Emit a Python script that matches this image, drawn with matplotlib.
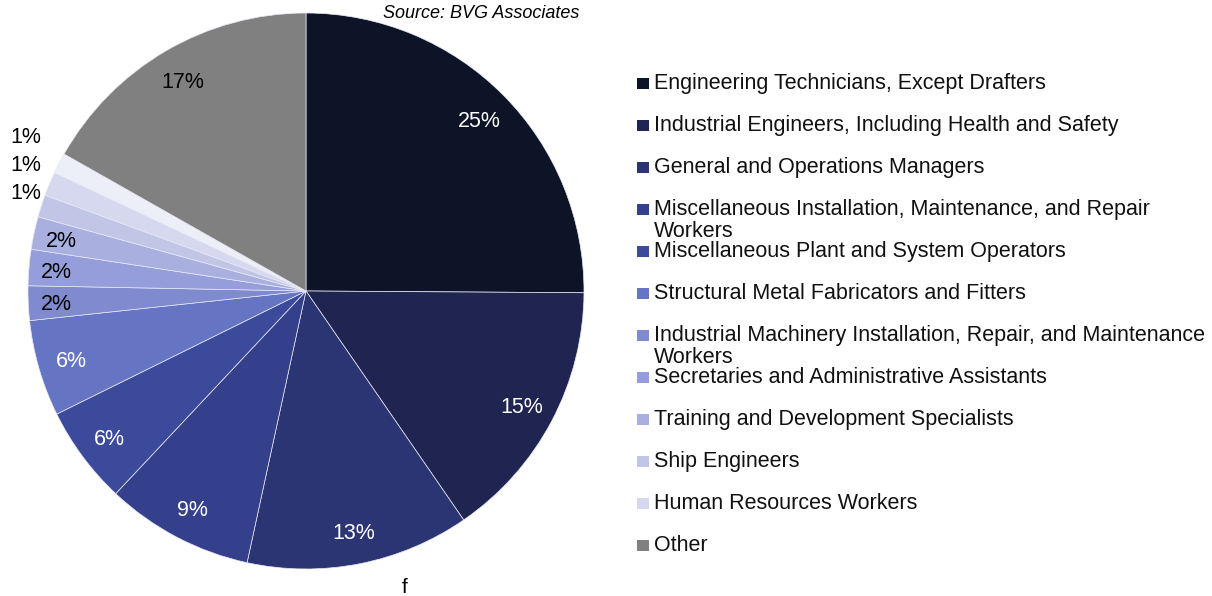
import matplotlib
matplotlib.use('Agg')
import numpy as np
import matplotlib.pyplot as plt
from matplotlib.patches import Rectangle

plt.rcParams['font.family'] = ['Liberation Sans', 'DejaVu Sans']

# occupations, clockwise from 12 o'clock (one slice has no legend entry in the source)
categories = [
    'Engineering Technicians, Except Drafters',
    'Industrial Engineers, Including Health and Safety',
    'General and Operations Managers',
    'Miscellaneous Installation, Maintenance, and Repair\nWorkers',
    'Miscellaneous Plant and System Operators',
    'Structural Metal Fabricators and Fitters',
    'Industrial Machinery Installation, Repair, and Maintenance\nWorkers',
    'Secretaries and Administrative Assistants',
    'Training and Development Specialists',
    'Ship Engineers',
    'Human Resources Workers',
    '',
    'Other',
]
shares = [25.1, 15.3, 13.0, 8.6, 5.7, 5.6, 2.0, 2.1, 1.9, 1.3, 1.4, 1.2, 16.8]
colors = ['#0e1428', '#1f2550', '#2c3573', '#34408c', '#3c4a9c', '#6674c4',
          '#7f8acf', '#959eda', '#a9b0e0', '#c1c5e6', '#d5d8ee', '#eceef8',
          '#808080']

W, H = 1212, 596
fig = plt.figure(figsize=(W / 100, H / 100), dpi=100)

# pie: centre at (306, 291) px, radius 278 px
cx, cy, r = 306, 291, 278
ax = fig.add_axes([(cx - r) / W, (H - cy - r) / H, 2 * r / W, 2 * r / H])
wedges, texts, autotexts = ax.pie(
    shares, colors=colors, startangle=90, counterclock=False,
    autopct='%.0f%%', pctdistance=0.88,
    wedgeprops=dict(edgecolor='#e8e8f4', linewidth=0.5),
    textprops=dict(fontsize=15.5))
ax.set_xlim(-1, 1)
ax.set_ylim(-1, 1)
ax.set_aspect('equal')

for i, (w, t) in enumerate(zip(wedges, autotexts)):
    t.set_color('white' if i < 6 else 'black')
    t.set_va('center_baseline')
    if 6 <= i <= 8:
        mid = np.deg2rad((w.theta1 + w.theta2) / 2)
        t.set_position((0.9 * np.cos(mid), 0.9 * np.sin(mid)))

# the three 1% labels are stacked outside the pie on the left
outside_y = [0.36, 0.46, 0.56]
for t, y in zip(autotexts[9:12], outside_y):
    t.set_position((-1.007, y))

# legend drawn by hand: fixed row pitch, wrapped lines spill into the gap
row0, pitch = 82, 42
k = 0
for name, c in zip(categories, colors):
    if not name:
        continue
    base = row0 + k * pitch + 7
    fig.add_artist(Rectangle((637 / W, 1 - base / H), 12 / W, 11 / H,
                             transform=fig.transFigure, color=c, lw=0))
    for j, line in enumerate(name.split('\n')):
        fig.text(654 / W, 1 - (base + 22 * j) / H, line, fontsize=15.5,
                 va='baseline', ha='left', color='#111111')
    k += 1

fig.text(383 / W, 1 - 18 / H, 'Source: BVG Associates', style='italic',
         fontsize=13, va='baseline', ha='left')
fig.text(405 / W, 1 - 593 / H, 'f', fontsize=15, va='baseline', ha='center')

fig.savefig('out.png', dpi=100)
